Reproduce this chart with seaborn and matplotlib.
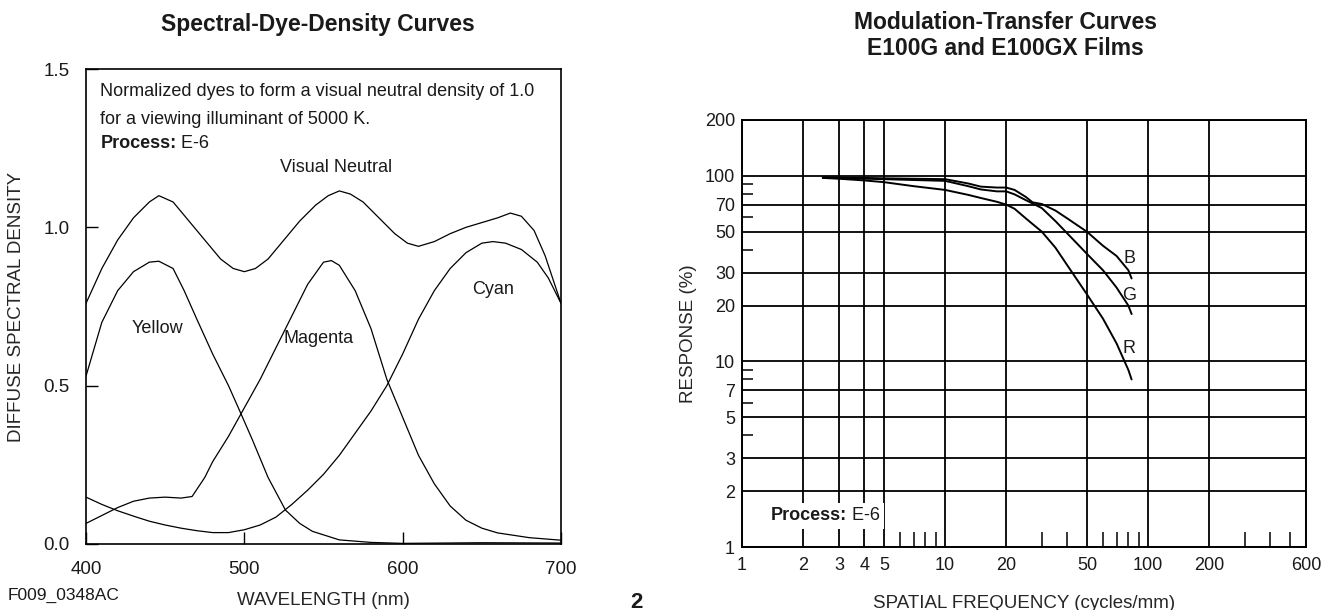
import matplotlib
matplotlib.use("Agg")
import matplotlib.pyplot as plt
import seaborn as sns
from matplotlib.ticker import FixedLocator, FixedFormatter, NullFormatter

# ---------------- Left chart data: spectral dye density ----------------
wl_neutral = [400, 410, 420, 430, 440, 446, 455, 465, 475, 485, 493, 500, 507, 515, 525,
              535, 545, 553, 560, 567, 575, 585, 595, 603, 610, 620, 630, 640, 650, 660,
              668, 675, 683, 690, 700]
neutral = [0.76, 0.87, 0.96, 1.03, 1.08, 1.10, 1.08, 1.02, 0.96, 0.90, 0.87, 0.86, 0.87, 0.90, 0.96,
           1.02, 1.07, 1.10, 1.115, 1.105, 1.08, 1.03, 0.98, 0.95, 0.94, 0.955, 0.98, 1.00, 1.015, 1.03,
           1.045, 1.035, 0.99, 0.91, 0.76]

wl_yellow = [400, 410, 420, 430, 440, 446, 455, 462, 470, 480, 490, 498, 505, 515, 526,
             535, 543, 560, 580, 600, 650, 700]
yellow = [0.53, 0.70, 0.80, 0.86, 0.89, 0.893, 0.87, 0.80, 0.71, 0.60, 0.50, 0.41, 0.33, 0.21, 0.107,
          0.065, 0.04, 0.013, 0.005, 0.002, 0.004, 0.003]

wl_magenta = [400, 410, 420, 430, 440, 450, 460, 467, 475, 480, 490, 500, 510, 520, 530,
              540, 550, 555, 560, 570, 580, 590, 600, 610, 620, 630, 640, 650, 660, 680, 700]
magenta = [0.065, 0.09, 0.115, 0.135, 0.145, 0.148, 0.145, 0.15, 0.21, 0.26, 0.34, 0.43, 0.52, 0.62, 0.72,
           0.82, 0.89, 0.895, 0.88, 0.80, 0.68, 0.52, 0.40, 0.28, 0.19, 0.12, 0.075, 0.05, 0.035, 0.02, 0.012]

wl_cyan = [400, 410, 420, 430, 440, 450, 460, 470, 480, 490, 500, 510, 520, 530, 540,
           550, 560, 570, 580, 590, 600, 610, 620, 630, 640, 650, 657, 665, 675, 685, 692, 700]
cyan = [0.148, 0.125, 0.105, 0.088, 0.072, 0.06, 0.05, 0.042, 0.036, 0.036, 0.045, 0.06, 0.085, 0.125, 0.17,
        0.22, 0.28, 0.35, 0.42, 0.50, 0.60, 0.71, 0.80, 0.87, 0.92, 0.95, 0.955, 0.95, 0.93, 0.89, 0.84, 0.76]

left_xticks = [400, 500, 600, 700]
left_yticks = [0.0, 0.5, 1.0, 1.5]
left_yticklabels = ["0.0", "0.5", "1.0", "1.5"]

# ---------------- Right chart data: modulation transfer ----------------
freq = [2.5, 3, 4, 5, 7, 10, 13, 15, 18, 20, 22, 25, 27, 30, 35, 40, 50, 60, 70, 80, 83]
resp_B = [98, 98, 97.5, 97, 96.5, 96, 91, 87.5, 86.5, 86.5, 84, 77, 72, 70.5, 65, 59, 50, 42, 37, 31, 28]
resp_G = [98, 97.5, 96.5, 96, 95, 94, 88, 84.5, 82.5, 82.5, 79.5, 74, 71, 67, 57, 49, 38, 31, 25, 20, 18]
resp_R = [97.5, 96.5, 94.5, 92.5, 88, 84, 79, 76, 72.5, 70, 66.5, 59, 55, 50, 41, 33, 23, 17, 12.5, 9, 8]

right_xticks = [1, 2, 3, 4, 5, 10, 20, 50, 100, 200, 600]
right_xminor = [6, 7, 8, 9, 30, 40, 60, 70, 80, 90, 300, 400, 500]
right_yticks = [1, 2, 3, 5, 7, 10, 20, 30, 50, 70, 100, 200]
right_yminor = [4, 6, 8, 9, 40, 60, 80, 90]

# ---------------- Style ----------------
sns.set_theme(style="white")
plt.rcParams['font.family'] = ['Liberation Sans', 'DejaVu Sans']
plt.rcParams['axes.edgecolor'] = 'black'
plt.rcParams['text.color'] = '#1a1a1a'
plt.rcParams['xtick.color'] = 'black'
plt.rcParams['ytick.color'] = 'black'
plt.rcParams['xtick.labelcolor'] = '#1a1a1a'
plt.rcParams['ytick.labelcolor'] = '#1a1a1a'

W, H = 1324, 610
fig = plt.figure(figsize=(W / 100, H / 100), dpi=100)


def px_rect(l, t, r, b):
    return [l / W, 1 - b / H, (r - l) / W, (b - t) / H]


def fx(x):
    return x / W


def fy(y):
    return 1 - y / H


white_box = dict(facecolor='white', edgecolor='none', boxstyle='square,pad=0.25')

# ---------------- Left chart ----------------
axL = fig.add_axes(px_rect(86, 69, 561, 544))
for wl, vals in [(wl_neutral, neutral), (wl_yellow, yellow), (wl_magenta, magenta), (wl_cyan, cyan)]:
    sns.lineplot(x=wl, y=vals, ax=axL, color='black', lw=0.9, sort=False, estimator=None)
axL.set_xlim(400, 700)
axL.set_ylim(0, 1.5)
axL.set_xticks(left_xticks)
axL.set_yticks(left_yticks)
axL.set_yticklabels(left_yticklabels)
axL.tick_params(axis='x', direction='in', length=9, width=1.0, pad=12, labelsize=13.5, bottom=True)
axL.tick_params(axis='y', direction='in', length=8.5, width=1.0, pad=12, labelsize=13.5, left=True)
for s in axL.spines.values():
    s.set_linewidth(1.2)
    s.set_color('black')
axL.set_xlabel("WAVELENGTH (nm)", fontsize=13.5)
axL.xaxis.set_label_coords(0.5, -0.102)
axL.set_ylabel("DIFFUSE SPECTRAL DENSITY", fontsize=13.5)
axL.yaxis.set_label_coords(-0.128, 0.5)

axL.text(409, 1.428, "Normalized dyes to form a visual neutral density of 1.0",
         fontsize=13, va='center', ha='left')
axL.text(409, 1.340, "for a viewing illuminant of 5000 K.", fontsize=13, va='center', ha='left')
tL = axL.text(409, 1.266, "Process:", fontsize=13, weight='bold', va='center', ha='left')
axL.annotate(" E-6", xy=(1, 0.5), xycoords=tL, fontsize=13, va='center', ha='left')
axL.text(558, 1.19, "Visual Neutral", fontsize=13, ha='center', va='center')
axL.text(445, 0.68, "Yellow", fontsize=13, ha='center', va='center')
axL.text(547, 0.648, "Magenta", fontsize=13, ha='center', va='center')
axL.text(657, 0.804, "Cyan", fontsize=13, ha='center', va='center')

fig.text(fx(318), fy(25), "Spectral-Dye-Density Curves", fontsize=16.5, weight='bold',
         ha='center', va='center')
fig.text(fx(64), fy(595), "F009_0348AC", fontsize=12.5, ha='center', va='center')
fig.text(fx(636), fy(602), "2", fontsize=16, weight='bold', ha='center', va='center')

# ---------------- Right chart ----------------
axR = fig.add_axes(px_rect(742, 120, 1306, 547))
for vals in [resp_B, resp_G, resp_R]:
    sns.lineplot(x=freq, y=vals, ax=axR, color='black', lw=1.4, sort=False, estimator=None)
axR.set_xscale('log')
axR.set_yscale('log')
axR.set_xlim(1, 600)
axR.set_ylim(1, 200)
axR.xaxis.set_major_locator(FixedLocator(right_xticks))
axR.xaxis.set_major_formatter(FixedFormatter([str(v) for v in right_xticks]))
axR.xaxis.set_minor_locator(FixedLocator(right_xminor))
axR.xaxis.set_minor_formatter(NullFormatter())
axR.yaxis.set_major_locator(FixedLocator(right_yticks))
axR.yaxis.set_major_formatter(FixedFormatter([str(v) for v in right_yticks]))
axR.yaxis.set_minor_locator(FixedLocator(right_yminor))
axR.yaxis.set_minor_formatter(NullFormatter())
axR.grid(True, which='major', color='black', lw=1.3)
axR.tick_params(axis='both', which='major', length=0, labelsize=13)
axR.tick_params(axis='x', which='major', pad=7)
axR.tick_params(axis='y', which='major', pad=5)
axR.tick_params(axis='x', which='minor', direction='in', length=11, width=1.1, bottom=True)
axR.tick_params(axis='y', which='minor', direction='in', length=8, width=1.1, left=True)
for s in axR.spines.values():
    s.set_linewidth(1.4)
    s.set_color('black')
axR.set_xlabel("SPATIAL FREQUENCY (cycles/mm)", fontsize=13.5)
axR.xaxis.set_label_coords(0.5, -0.112)
axR.set_ylabel("RESPONSE (%)", fontsize=13.5)
axR.yaxis.set_label_coords(-0.080, 0.5)

axR.text(81, 36, "B", fontsize=13, ha='center', va='center')
axR.text(81, 22.6, "G", fontsize=13, ha='center', va='center')
axR.text(81, 11.7, "R", fontsize=13, ha='center', va='center')
tR = axR.text(1.38, 1.47, "Process:", fontsize=13, weight='bold', va='center', ha='left',
              bbox=white_box, zorder=6)
axR.annotate(" E-6", xy=(1, 0.5), xycoords=tR, fontsize=13, va='center', ha='left',
             bbox=white_box, zorder=5)

fig.text(fx(1005), fy(35.5), "Modulation-Transfer Curves\nE100G and E100GX Films", fontsize=16.5,
         weight='bold', ha='center', va='center', linespacing=1.2)

fig.savefig("out.png", dpi=100, facecolor='white')
